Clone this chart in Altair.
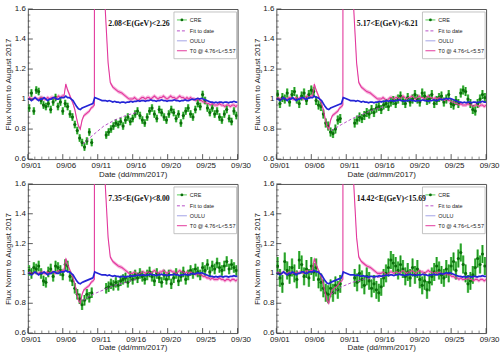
import altair as alt
import pandas as pd

# ---------------- data ----------------
panel_titles = ["2.08<E(GeV)<2.26", "5.17<E(GeV)<6.21", "7.35<E(GeV)<8.00", "14.42<E(GeV)<15.69"]
legend_labels = ["CRE", "Fit to date", "OULU", "T0 @ 4.76<L<5.57"]
x_tick_labels = ["09/01", "09/06", "09/11", "09/16", "09/20", "09/25", "09/30"]
y_tick_vals = [0.6, 0.8, 1.0, 1.2, 1.4, 1.6]
y_tick_labels = ["0.6", "0.8", "1", "1.2", "1.4", "1.6"]

# OULU neutron monitor, every 6 h from 09/01
oulu_vals = [
    1.00, 1.00, 0.99, 1.00, 1.01, 1.00, 0.99, 1.00, 1.00, 1.01, 1.00, 0.99, 1.00, 1.00, 1.01, 1.01, 1.00, 1.00, 1.01, 1.01,
    1.01, 1.02, 1.01, 1.01, 1.00, 0.99, 0.97, 0.95, 0.935, 0.93, 0.94, 0.945, 0.95, 0.955, 0.96, 0.965, 0.97, 1.01, 1.005, 1.00,
    0.995, 0.99, 0.99, 0.99, 0.985, 0.99, 0.985, 0.98, 0.985, 0.98, 0.98, 0.975, 0.98, 0.98, 0.975, 0.98, 0.98, 0.985, 0.98, 0.985,
    0.985, 0.99, 0.985, 0.99, 0.99, 0.985, 0.99, 0.99, 0.995, 0.99, 0.99, 0.985, 0.99, 0.99, 0.995, 0.99, 0.99, 0.985, 0.99, 0.99,
    0.99, 0.995, 0.99, 0.99, 0.985, 0.99, 0.99, 0.995, 0.99, 0.99, 0.995, 1.00, 0.995, 1.00, 1.005, 1.00, 1.005, 1.00, 0.995, 0.99,
    0.985, 0.98, 0.98, 0.975, 0.98, 0.975, 0.98, 0.98, 0.975, 0.98, 0.98, 0.975, 0.98, 0.98, 0.985, 0.98, 0.98,
]

# T0 @ 4.76<L<5.57: before the SEP event (6 h), the event itself, after (6 h)
t0_pre_vals = [
    1.00, 1.01, 1.00, 1.00, 1.01, 1.00, 1.00, 1.01, 1.01, 1.00, 1.00, 1.01, 1.00, 1.01, 1.01, 1.00, 1.01, 1.02, 1.01, 1.02,
    1.02, 1.10, 1.06, 1.03, 1.00, 0.97, 0.93, 0.87, 0.82, 0.80, 0.86, 0.89, 0.90, 0.91, 0.92, 0.94, 0.95,
]
t0_event_days = [10.2, 10.22, 11.4, 11.7, 11.9, 12.1, 12.4, 12.75, 13.0, 13.25, 13.5, 13.75, 14.0, 14.25, 14.5, 14.75, 15.0]
t0_event_vals = [0.96, 3.0, 2.2, 1.6, 1.42, 1.24, 1.11, 1.08, 1.07, 1.06, 1.05, 1.045, 1.04, 1.03, 1.02, 1.01, 1.00]
t0_post_vals = [
    1.00, 1.00, 1.01, 1.00, 0.99, 1.00, 1.01, 1.01,
    1.00, 1.01, 1.01, 1.00, 1.01, 1.02, 1.01, 1.00,
    1.01, 1.01, 1.02, 1.01, 1.00, 1.01, 1.02, 1.01,
    1.01, 1.00, 1.01, 1.02, 1.01, 1.01, 1.00, 1.01,
    1.00, 1.01, 1.00, 1.00, 0.99, 1.00, 0.99, 0.99,
    0.98, 0.98, 0.97, 0.97, 0.96, 0.97, 0.96, 0.96,
    0.96, 0.97, 0.96, 0.96, 0.95, 0.96, 0.96, 0.95,
    0.96, 0.96, 0.95, 0.96,
]

# CRE, 8 h bins: before the gap (09/01 - 09/09) and after it (09/11 18h - 09/29)
cre_pre = [
    [0.94, 1.04, 0.92, 1.06, 1.05, 0.99, 0.96, 0.95, 0.97, 0.93, 0.98, 1.01, 0.95, 0.98, 0.92,
     0.97, 0.95, 0.90, 0.88, 0.83, 0.79, 0.74, 0.71, 0.68, 0.72, 0.78, 0.71],
    [1.03, 0.97, 1.01, 1.00, 1.04, 0.98, 1.03, 1.05, 1.00, 0.97, 1.02, 1.04, 0.99, 1.03, 1.06,
     1.05, 0.99, 0.96, 0.95, 0.90, 0.84, 0.82, 0.78, 0.77, 0.80, 0.86, 0.87],
    [1.02, 1.00, 1.04, 1.03, 1.05, 1.00, 0.95, 0.94, 1.01, 1.03, 0.98, 1.05, 1.04, 1.02, 0.99,
     1.06, 1.05, 0.98, 0.95, 0.90, 0.86, 0.83, 0.79, 0.82, 0.86, 0.84, 0.87],
    [1.05, 0.97, 0.93, 1.08, 1.02, 0.99, 1.04, 1.00, 0.96, 1.09, 1.06, 0.98, 1.03, 0.97, 1.05,
     1.01, 1.04, 0.96, 0.94, 0.90, 0.87, 0.86, 0.90, 0.87, 0.92, 0.89, 0.93],
]
cre_post = [
    [0.76, 0.78, 0.80, 0.82, 0.84, 0.83, 0.85, 0.82, 0.86, 0.88, 0.85, 0.87, 0.90, 0.92, 0.89, 0.86,
     0.84, 0.88, 0.92, 0.94, 0.90, 0.87, 0.93, 0.91, 0.88, 0.86, 0.90, 0.93, 0.91, 0.87, 0.90,
     0.84, 0.89, 0.92, 0.94, 0.90, 0.88, 0.93, 0.97, 0.95, 1.03, 0.99, 0.94, 0.91, 0.94, 0.90,
     0.92, 0.88, 0.86, 0.90, 0.93, 0.87, 0.85, 0.92, 0.89],
    [0.84, 0.86, 0.88, 0.87, 0.89, 0.91, 0.90, 0.93, 0.91, 0.94, 0.95, 0.93, 0.96, 0.97, 0.95, 0.98,
     0.99, 0.97, 1.00, 1.02, 0.99, 0.97, 1.01, 0.98, 1.00, 1.03, 1.00, 0.98, 1.04, 1.02, 0.99,
     1.00, 1.03, 0.97, 0.99, 1.01, 1.02, 0.98, 1.00, 1.03, 0.97, 0.96, 0.99, 0.97, 1.04, 1.06,
     1.05, 1.00, 0.97, 0.93, 0.92, 0.97, 1.00, 1.03, 1.01],
    [0.90, 0.91, 0.93, 0.92, 0.94, 0.92, 0.95, 0.96, 0.97, 0.94, 0.98, 0.96, 0.99, 0.97, 1.00, 0.98,
     0.96, 0.99, 1.01, 0.98, 0.95, 1.00, 0.97, 0.94, 0.99, 0.96, 0.99, 0.93, 0.97, 1.00, 0.95,
     0.98, 1.01, 0.96, 0.99, 1.02, 1.00, 1.03, 1.01, 0.99, 1.04, 1.02, 1.06, 1.01, 1.05, 1.03,
     1.07, 1.04, 1.02, 1.05, 1.08, 1.03, 1.06, 1.04, 1.02],
    [0.97, 0.94, 1.00, 0.96, 0.92, 0.98, 0.95, 0.90, 0.93, 0.89, 0.87, 0.91, 0.97, 1.00, 1.04, 1.09,
     1.07, 1.05, 1.02, 1.06, 1.03, 0.98, 1.01, 0.97, 1.04, 0.99, 1.03, 0.96, 0.92, 0.95, 0.89,
     0.94, 0.98, 1.01, 1.05, 1.02, 0.99, 0.97, 1.03, 1.00, 1.05, 1.08, 1.02, 1.10, 1.14, 1.06,
     1.00, 0.93, 0.95, 0.99, 1.04, 1.10, 1.06, 1.13, 1.05],
]
cre_err = [0.025, 0.03, 0.035, 0.06]

fit_days = [8.6, 10.0, 11.5, 13.0, 14.5, 16.0]
fit_vals = [
    [0.70, 0.76, 0.82, 0.86, 0.89, 0.91],
    [0.79, 0.83, 0.87, 0.90, 0.93, 0.95],
    [0.82, 0.86, 0.89, 0.92, 0.94, 0.96],
    [0.86, 0.91, 0.94, 0.96, 0.97, 0.98],
]

y_minor = [0.64, 0.68, 0.72, 0.76, 0.84, 0.88, 0.92, 0.96, 1.04, 1.08, 1.12, 1.16,
           1.24, 1.28, 1.32, 1.36, 1.44, 1.48, 1.52, 1.56]

# ---------------- frames ----------------
oulu_df = pd.DataFrame({"day": [1 + k / 4 for k in range(len(oulu_vals))], "v": oulu_vals})
t0_days = ([1 + k / 4 for k in range(len(t0_pre_vals))] + t0_event_days
           + [15.25 + k / 4 for k in range(len(t0_post_vals))])
t0_df = pd.DataFrame({"day": t0_days, "v": t0_pre_vals + t0_event_vals + t0_post_vals})
cre_days = [1 + (k + 0.5) / 3 for k in range(27)] + [1 + (k + 0.5) / 3 for k in range(32, 87)]
x_major = [1 + k * 29 / 6 for k in range(7)]
x_minor = [1 + k * 29 / 30 for k in range(31) if k % 5 != 0]
ylab_df = pd.DataFrame({"t": y_tick_vals, "lab": y_tick_labels})

W = 211
XS = alt.Scale(domain=[1, 30], nice=False, zero=False)
YS = alt.Scale(domain=[0.6, 1.6], nice=False, zero=False)

C_GREEN_BAR = "#55cc55"
C_GREEN = "#0b6e0b"
C_BLUE = "#2424d6"
C_PINK = "#e2389c"
C_PINK_BAND = "#f6a9d8"
C_FIT = "#b03cc0"
C_OULU_LEG = "#a3a3e6"

label_expr = "'09/' + (round(datum.value) < 10 ? '0' : '') + round(datum.value)"

XAX = alt.Axis(values=x_major, tickCount=20, labelExpr=label_expr, title="Date (dd/mm/2017)",
               ticks=False, domain=False, grid=False, labelFlush=False, labelOverlap=False,
               labelPadding=2, titlePadding=1, labelOffset=3)
YAX = alt.Axis(values=y_tick_vals, tickCount=20, labels=False, title="Flux Norm to August 2017",
               ticks=False, domain=False, grid=False, titlePadding=15)


def X(field):
    return alt.X(field, scale=XS, axis=XAX)


def Y(field):
    return alt.Y(field, scale=YS, axis=YAX)


def panel(i, H):
    cre_df = pd.DataFrame({"day": cre_days, "v": cre_pre[i] + cre_post[i]})
    fit_df = pd.DataFrame({"day": fit_days, "v": fit_vals[i]})
    err = cre_err[i]

    band = alt.Chart(t0_df).transform_calculate(
        lo="datum.v - 0.013", hi="datum.v + 0.013"
    ).mark_area(color=C_PINK_BAND, opacity=0.9, clip=True).encode(
        x=X("day:Q"), y=Y("lo:Q"), y2="hi:Q")
    t0_line = alt.Chart(t0_df).mark_line(color=C_PINK, strokeWidth=1.1, clip=True).encode(
        x=X("day:Q"), y=Y("v:Q"))
    oulu_line = alt.Chart(oulu_df).mark_line(color=C_BLUE, strokeWidth=1.7, clip=True).encode(
        x=X("day:Q"), y=Y("v:Q"))
    fit_line = alt.Chart(fit_df).mark_line(color=C_FIT, strokeWidth=0.9, strokeDash=[3, 2], clip=True).encode(
        x=X("day:Q"), y=Y("v:Q"))

    cre_base = alt.Chart(cre_df).transform_calculate(
        lo=f"datum.v - {err}", hi=f"datum.v + {err}")
    cre_box = cre_base.mark_rule(color=C_GREEN_BAR, strokeWidth=2.4, clip=True).encode(
        x=X("day:Q"), y=Y("lo:Q"), y2="hi:Q")
    cre_bar = cre_base.mark_rule(color=C_GREEN, strokeWidth=0.7, clip=True).encode(
        x=X("day:Q"), y=Y("lo:Q"), y2="hi:Q")
    cre_pt = cre_base.mark_circle(color=C_GREEN, size=10, opacity=1, clip=True).encode(
        x=X("day:Q"), y=Y("v:Q"))

    # inward ticks and y labels
    ymaj = alt.Chart(ylab_df).mark_rule(color="#333", strokeWidth=0.8).encode(
        y=Y("t:Q"), x=alt.value(0), x2=alt.value(5))
    ylab = alt.Chart(ylab_df).mark_text(
        align="right", baseline="middle", fontSize=8, font="Liberation Sans", color="#222").encode(
        y=Y("t:Q"), x=alt.value(-2), text="lab:N")
    ymin = alt.Chart(pd.DataFrame({"t": y_minor})).mark_rule(color="#333", strokeWidth=0.6).encode(
        y=Y("t:Q"), x=alt.value(0), x2=alt.value(2.5))
    xmaj = alt.Chart(pd.DataFrame({"t": x_major})).mark_rule(color="#333", strokeWidth=0.8).encode(
        x=X("t:Q"), y=alt.value(H), y2=alt.value(H - 5))
    xmin = alt.Chart(pd.DataFrame({"t": x_minor})).mark_rule(color="#333", strokeWidth=0.6).encode(
        x=X("t:Q"), y=alt.value(H), y2=alt.value(H - 2.5))

    # legend box
    one = pd.DataFrame({"a": [0]})
    lbox = alt.Chart(one).mark_rect(fill="white", stroke="#b5b5b5", strokeWidth=0.8).encode(
        x=alt.value(147), x2=alt.value(210), y=alt.value(3), y2=alt.value(50))
    ly = [11, 22, 32, 42]
    lx0, lx1 = 150, 160
    leg_cre_bar = alt.Chart(one).mark_rule(color=C_GREEN_BAR, strokeWidth=1).encode(
        x=alt.value(lx0), x2=alt.value(lx1), y=alt.value(ly[0]))
    leg_cre_pt = alt.Chart(one).mark_circle(color=C_GREEN, size=8, opacity=1).encode(
        x=alt.value((lx0 + lx1) / 2), y=alt.value(ly[0]))
    leg_fit = alt.Chart(one).mark_rule(color=C_FIT, strokeWidth=0.9, strokeDash=[3, 2]).encode(
        x=alt.value(lx0), x2=alt.value(lx1), y=alt.value(ly[1]))
    leg_oulu = alt.Chart(one).mark_rule(color=C_OULU_LEG, strokeWidth=1).encode(
        x=alt.value(lx0), x2=alt.value(lx1), y=alt.value(ly[2]))
    leg_t0 = alt.Chart(one).mark_rule(color=C_PINK, strokeWidth=1).encode(
        x=alt.value(lx0), x2=alt.value(lx1), y=alt.value(ly[3]))
    leg_txt = alt.Chart(pd.DataFrame({"lab": legend_labels, "py": ly})).mark_text(
        align="left", baseline="middle", fontSize=5.5, font="Liberation Sans", color="#222").encode(
        x=alt.value(163), y=alt.Y("py:Q", scale=None), text="lab:N")

    title = alt.Chart(pd.DataFrame({"t": [panel_titles[i]]})).mark_text(
        align="left", baseline="middle", fontSize=7.8, fontWeight="bold",
        font="Liberation Serif", color="#111").encode(
        x=alt.value(81), y=alt.value(15), text="t:N")

    return alt.layer(
        band, cre_box, cre_bar, cre_pt, fit_line, t0_line, oulu_line,
        ymaj, ymin, xmaj, xmin, ylab,
        lbox, leg_cre_bar, leg_cre_pt, leg_fit, leg_oulu, leg_t0, leg_txt, title,
    ).properties(width=W, height=H)


chart = alt.concat(
    panel(0, 151), panel(1, 151), panel(2, 150), panel(3, 150),
    columns=2, spacing={"row": 25, "column": 39}, bounds="flush",
).properties(
    padding={"left": 4, "top": 3, "right": 0, "bottom": 0},
    background="white",
).configure_view(
    stroke="#555", strokeWidth=1
).configure_axis(
    labelFont="Liberation Sans", titleFont="Liberation Sans", labelFontSize=8,
    titleFontSize=8, titleFontWeight="normal", labelColor="#222", titleColor="#222",
)

chart.save("out.html", embed_options={"renderer": "svg", "actions": False})
